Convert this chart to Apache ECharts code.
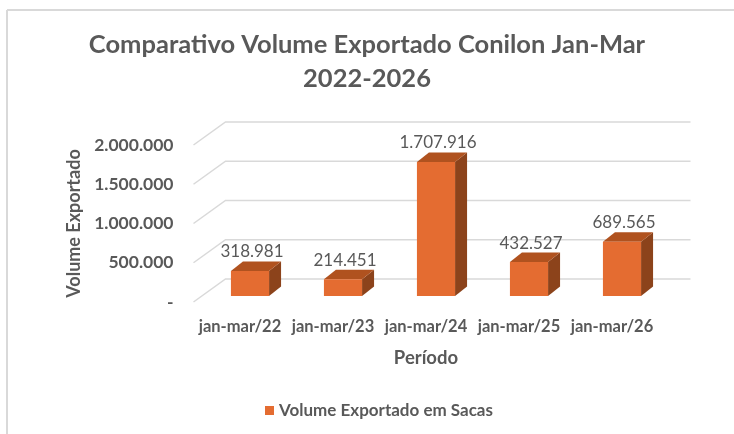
<!DOCTYPE html>
<html>
<head>
<meta charset="utf-8">
<script src="https://cdn.jsdelivr.net/npm/echarts@6/dist/echarts.min.js"></script>
<style>
  html, body { margin: 0; padding: 0; background: #fff; }
  #chart { width: 734px; height: 434px; }
</style>
</head>
<body>
<div id="chart"></div>
<script>
// dados do gráfico
var periodos = ['jan-mar/22', 'jan-mar/23', 'jan-mar/24', 'jan-mar/25', 'jan-mar/26']
var volumes = [318981, 214451, 1707916, 432527, 689565]
var yTicks = [0, 500000, 1000000, 1500000, 2000000]
var serieNome = 'Volume Exportado em Sacas'

var corTexto = '#595959'
var fonte = 'Lato, "Open Sans", sans-serif'

function fmt (v) {
  if (v === 0) return '-'
  return String(Math.round(v)).replace(/\B(?=(\d{3})+(?!\d))/g, '.')
}

// profundidade do "3D"
var FLOOR_DX = 32
var FLOOR_DY = 23
var BAR_DX = 12
var BAR_DY = 9.5

function renderGrade (params, api) {
  var cs = params.coordSys
  var p = api.coord([0, api.value(1)])
  var y = p[1]
  return {
    type: 'polyline',
    shape: {
      points: [
        [cs.x, y],
        [cs.x + FLOOR_DX, y - FLOOR_DY],
        [cs.x + cs.width + FLOOR_DX, y - FLOOR_DY]
      ]
    },
    style: { stroke: '#d9d9d9', lineWidth: 1.5, fill: null },
    silent: true
  }
}

function renderBarra (params, api) {
  var base = api.coord([api.value(0), 0])
  var topo = api.coord([api.value(0), api.value(1)])
  var w = api.size([1, 0])[0] * 0.41
  var cx = base[0] + 10
  var x1 = cx - w / 2
  var x2 = cx + w / 2
  var yb = base[1] - 6
  var yt = topo[1] - 6
  return {
    type: 'group',
    children: [
      {
        type: 'polygon',
        shape: { points: [[x2, yt], [x2 + BAR_DX, yt - BAR_DY], [x2 + BAR_DX, yb - BAR_DY], [x2, yb]] },
        style: { fill: '#8c431b' }
      },
      {
        type: 'polygon',
        shape: { points: [[x1, yt], [x2, yt], [x2 + BAR_DX, yt - BAR_DY], [x1 + BAR_DX, yt - BAR_DY]] },
        style: { fill: '#b0521f' }
      },
      {
        type: 'rect',
        shape: { x: x1, y: yt, width: w, height: yb - yt },
        style: { fill: '#e46c31' }
      },
      {
        type: 'text',
        x: cx + 2,
        y: yt - BAR_DY - 9.5,
        style: {
          text: fmt(api.value(1)),
          fill: corTexto,
          font: '17px ' + fonte,
          align: 'center',
          verticalAlign: 'middle'
        }
      }
    ]
  }
}

var myChart = echarts.init(document.getElementById('chart'))

var option = {
  backgroundColor: '#fff',
  animation: false,
  title: {
    text: 'Comparativo Volume Exportado Conilon Jan-Mar\n2022-2026',
    left: 'center',
    top: 23,
    textStyle: {
      color: corTexto,
      fontFamily: fonte,
      fontWeight: 'bold',
      fontSize: 25.5,
      lineHeight: 34
    }
  },
  graphic: [
    { type: 'line', shape: { x1: 7, y1: 10, x2: 734, y2: 10 }, style: { stroke: '#d9d9d9', lineWidth: 2 } },
    { type: 'line', shape: { x1: 7, y1: 10, x2: 7, y2: 434 }, style: { stroke: '#d9d9d9', lineWidth: 2 } }
  ],
  legend: {
    data: [serieNome],
    left: 265,
    top: 402,
    padding: 0,
    icon: 'rect',
    itemWidth: 9,
    itemHeight: 9,
    itemGap: 6,
    textStyle: {
      color: corTexto,
      fontFamily: fonte,
      fontWeight: 'bold',
      fontSize: 17
    }
  },
  grid: {
    left: 193.5,
    right: 75.5,
    top: 145,
    bottom: 132
  },
  xAxis: {
    type: 'category',
    data: periodos,
    name: 'Período',
    nameLocation: 'middle',
    nameGap: 47,
    nameTextStyle: { color: corTexto, fontFamily: fonte, fontWeight: 'bold', fontSize: 18.5 },
    axisLine: { show: false },
    axisTick: { show: false },
    axisLabel: {
      interval: 0,
      color: corTexto,
      fontFamily: fonte,
      fontWeight: 'bold',
      fontSize: 16.5,
      margin: 16
    }
  },
  yAxis: {
    type: 'value',
    min: 0,
    max: 2000000,
    interval: 500000,
    name: 'Volume Exportado',
    nameLocation: 'middle',
    nameGap: 110,
    nameTextStyle: { color: corTexto, fontFamily: fonte, fontWeight: 'bold', fontSize: 18 },
    axisLine: { show: false },
    axisTick: { show: false },
    splitLine: { show: false },
    axisLabel: {
      color: corTexto,
      fontFamily: fonte,
      fontWeight: 'bold',
      fontSize: 17.5,
      margin: 20,
      formatter: fmt
    }
  },
  series: [
    {
      type: 'custom',
      silent: true,
      z: 1,
      renderItem: renderGrade,
      data: yTicks.map(function (v) { return [0, v] })
    },
    {
      name: serieNome,
      type: 'custom',
      z: 2,
      itemStyle: { color: '#e46c31' },
      renderItem: renderBarra,
      encode: { x: 0, y: 1 },
      data: volumes.map(function (v, i) { return [i, v] })
    }
  ]
}

myChart.setOption(option)
</script>
</body>
</html>
